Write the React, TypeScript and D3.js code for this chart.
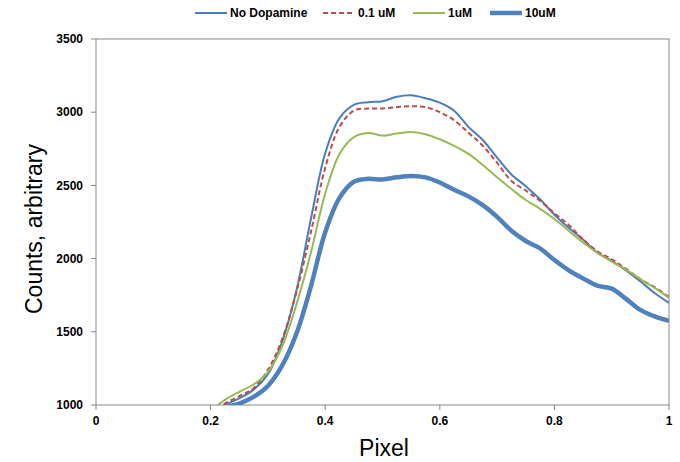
import React from "react";
import * as d3 from "d3";

const xValues = [0.2, 0.225, 0.25, 0.275, 0.3, 0.325, 0.35, 0.375, 0.4, 0.425, 0.45, 0.475, 0.5, 0.525, 0.55, 0.575, 0.6, 0.625, 0.65, 0.675, 0.7, 0.725, 0.75, 0.775, 0.8, 0.825, 0.85, 0.875, 0.9, 0.925, 0.95, 0.975, 1.0];

const noDopamine = [930, 1000, 1045, 1105, 1210, 1435, 1785, 2270, 2720, 2960, 3050, 3068, 3075, 3105, 3115, 3095, 3065, 3010, 2900, 2810, 2690, 2575, 2495, 2405, 2300, 2210, 2130, 2040, 1985, 1920, 1845, 1765, 1697];
const uM01 = [940, 1010, 1060, 1115, 1240, 1450, 1775, 2180, 2620, 2900, 3010, 3025, 3025, 3035, 3040, 3035, 3000, 2945, 2860, 2770, 2655, 2530, 2465, 2395, 2310, 2230, 2130, 2050, 1995, 1930, 1860, 1805, 1738];
const uM1 = [960, 1035, 1090, 1140, 1225, 1400, 1690, 2040, 2445, 2715, 2830, 2858, 2840, 2855, 2865, 2850, 2815, 2770, 2715, 2640, 2555, 2475, 2400, 2340, 2270, 2190, 2110, 2040, 1980, 1925, 1860, 1800, 1731];
const uM10 = [900, 980, 1010, 1055, 1130, 1270, 1490, 1810, 2180, 2415, 2525, 2545, 2540, 2555, 2565, 2555, 2520, 2470, 2425, 2365, 2285, 2190, 2120, 2070, 1990, 1920, 1865, 1815, 1795, 1725, 1650, 1605, 1575];

const seriesNames = ["No Dopamine", "0.1 uM", "1uM", "10uM"];
const xTicks = [0, 0.2, 0.4, 0.6, 0.8, 1];
const yTicks = [1000, 1500, 2000, 2500, 3000, 3500];

const W = 680, H = 462;
const M = { left: 96, right: 11, top: 39, bottom: 57 };

const styles = [
  { color: "#4a7ebb", width: 2, dash: "" },
  { color: "#be4b48", width: 2, dash: "5,3" },
  { color: "#98b954", width: 2, dash: "" },
  { color: "#4f81bd", width: 4.5, dash: "" },
];

export default function App() {
  const x = d3.scaleLinear().domain([0, 1]).range([M.left, W - M.right]);
  const y = d3.scaleLinear().domain([1000, 3500]).range([H - M.bottom, M.top]);
  const all = [noDopamine, uM01, uM1, uM10];
  const line = d3
    .line<number>()
    .x((_, i) => x(xValues[i]))
    .y((d) => y(d))
    .curve(d3.curveCatmullRom.alpha(0.5));

  const axisColor = "#878787";
  const font = "'Liberation Sans', Arial, sans-serif";
  const legendX = [195, 323, 413, 490];

  return (
    <svg width={W} height={H} style={{ position: "absolute", left: 0, top: 0, background: "#fff" }} fontFamily={font}>
      <defs>
        <clipPath id="plot">
          <rect x={M.left} y={M.top} width={W - M.left - M.right} height={H - M.top - M.bottom} />
        </clipPath>
      </defs>
      <rect x={M.left} y={M.top} width={W - M.left - M.right} height={H - M.top - M.bottom} fill="none" stroke={axisColor} strokeWidth={1} />
      {yTicks.map((t) => (
        <g key={"y" + t}>
          <line x1={M.left - 5} x2={M.left} y1={y(t)} y2={y(t)} stroke={axisColor} />
          <text x={M.left - 13} y={y(t)} dy="0.35em" textAnchor="end" fontSize={12} fontWeight="bold" fill="#000">
            {t}
          </text>
        </g>
      ))}
      {xTicks.map((t) => (
        <g key={"x" + t}>
          <line x1={x(t)} x2={x(t)} y1={H - M.bottom} y2={H - M.bottom + 5} stroke={axisColor} />
          <text x={x(t)} y={H - M.bottom + 20} textAnchor="middle" fontSize={12} fontWeight="bold" fill="#000">
            {t}
          </text>
        </g>
      ))}
      <g clipPath="url(#plot)">
        {all.map((s, i) => (
          <path key={i} d={line(s) || ""} fill="none" stroke={styles[i].color} strokeWidth={styles[i].width} strokeDasharray={styles[i].dash} strokeLinejoin="round" />
        ))}
      </g>
      <text x={384} y={456} textAnchor="middle" fontSize={23} fill="#000">Pixel</text>
      <text transform={`translate(42,229) rotate(-90)`} textAnchor="middle" fontSize={23} fill="#000">Counts, arbitrary</text>
      {seriesNames.map((n, i) => (
        <g key={n}>
          <line x1={legendX[i]} x2={legendX[i] + 32} y1={13} y2={13} stroke={styles[i].color} strokeWidth={styles[i].width} strokeDasharray={styles[i].dash} />
          <text x={legendX[i] + 35} y={13} dy="0.35em" fontSize={12} fontWeight="bold" fill="#000">{n}</text>
        </g>
      ))}
    </svg>
  );
}
